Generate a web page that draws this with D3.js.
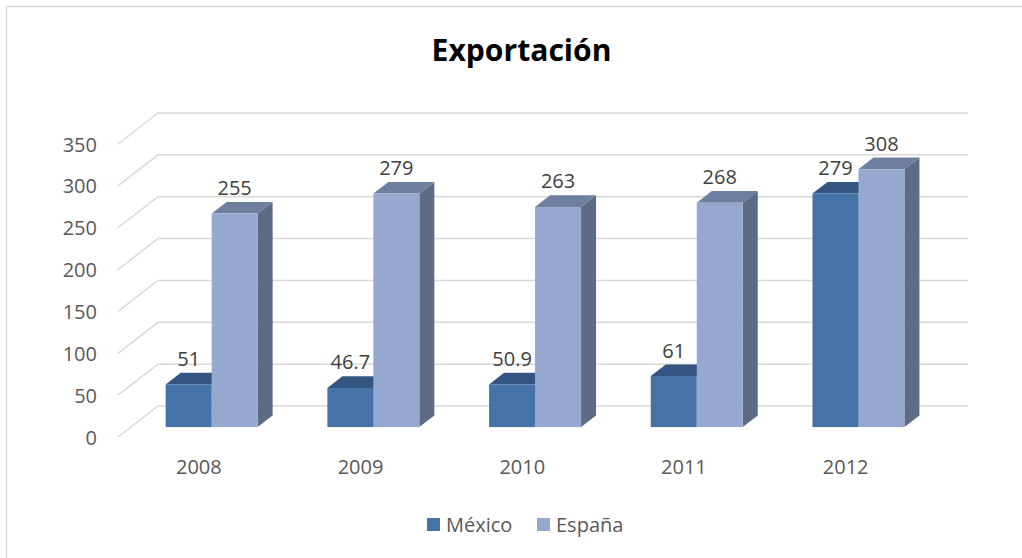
<!DOCTYPE html>
<html>
<head>
<meta charset="utf-8">
<script src="https://cdn.jsdelivr.net/npm/d3@7"></script>
<style>
  html, body { margin: 0; padding: 0; background: #fff; }
  svg { display: block; }
  text { font-family: "Open Sans", "Noto Sans", sans-serif; fill: #595959; }
</style>
</head>
<body>
<svg id="chart" width="1022" height="558"></svg>
<script>
// Export values by year, two countries
const years = ["2008", "2009", "2010", "2011", "2012"];
const seriesNames = ["México", "España"];
const mexico = [51, 46.7, 50.9, 61, 279];
const espana = [255, 279, 263, 268, 308];
const yTicks = [0, 50, 100, 150, 200, 250, 300, 350];
const chartTitle = "Exportación";

const svg = d3.select("#chart");

// Outer chart frame
svg.append("rect")
  .attr("x", 6.5).attr("y", 6.5)
  .attr("width", 1030).attr("height", 570)
  .attr("fill", "#fff").attr("stroke", "#d9d9d9").attr("stroke-width", 1.5);

// Front plane scales (depth 0); depth pushes points up and to the right
const x = d3.scaleBand().domain(years).range([118, 926.5]);
const y = d3.scaleLinear().domain([0, 350]).range([437, 144]);
const depth = { dx: 40, dy: -31 };
const proj = (px, py, t) => [px + depth.dx * t, py + depth.dy * t];

const inner = d3.scaleBand().domain(seriesNames)
  .range([0, x.bandwidth()]).paddingInner(0).paddingOuter(0.758);

const barFront = 0.32, barBack = 0.695;

const palette = {
  "México": { front: "#4572A7", top: "#345581", side: "#2F4B72" },
  "España": { front: "#95A9D0", top: "#6F7FA0", side: "#5E6B84" }
};

// Gridlines: side-wall diagonal plus back-wall horizontal
const grid = svg.append("g").attr("stroke", "#d9d9d9").attr("stroke-width", 1.5).attr("fill", "none");
const xLeft = x.range()[0], xRight = x.range()[1];
yTicks.forEach(v => {
  const a = proj(xLeft, y(v), 0);
  const b = proj(xLeft, y(v), 1);
  const c = proj(xRight, y(v), 1);
  grid.append("path").attr("d", d3.line()([a, b, [c[0] + 1.5, c[1]]]));
});

// Y axis labels
svg.append("g").selectAll("text").data(yTicks).join("text")
  .attr("x", 97).attr("y", d => y(d) + 7.5)
  .attr("text-anchor", "end").attr("font-size", 20)
  .text(d => d);

// Category labels
svg.append("g").selectAll("text").data(years).join("text")
  .attr("x", d => x(d) + x.bandwidth() / 2).attr("y", 474)
  .attr("text-anchor", "middle").attr("font-size", 20)
  .text(d => d);

// Bars
const rows = [];
years.forEach((yr, i) => {
  rows.push({ year: yr, series: "México", value: mexico[i] });
  rows.push({ year: yr, series: "España", value: espana[i] });
});

const bars = svg.append("g");
const shift = depth.dx * barFront, lift = depth.dy * barFront;
rows.forEach(d => {
  const x0 = x(d.year) + inner(d.series) + shift;
  const x1 = x0 + inner.bandwidth();
  const yb = y(0) + lift;
  const yt = y(d.value) + lift;
  const dt = barBack - barFront;
  const c = palette[d.series];
  const P = (px, py) => [px + depth.dx * dt, py + depth.dy * dt];
  const poly = pts => "M" + pts.map(p => p.join(",")).join("L") + "Z";
  // right side face
  bars.append("path").attr("fill", c.side)
    .attr("d", poly([[x1, yt], [x1, yb], P(x1, yb), P(x1, yt)]));
  // top face
  bars.append("path").attr("fill", c.top)
    .attr("d", poly([[x0, yt], [x1, yt], P(x1, yt), P(x0, yt)]));
  // front face
  bars.append("rect").attr("fill", c.front)
    .attr("x", x0).attr("y", yt).attr("width", x1 - x0).attr("height", yb - yt);
  d.cx = (x0 + x1) / 2; d.ty = yt;
});

// Value labels above each bar
svg.append("g").selectAll("text").data(rows).join("text")
  .attr("x", d => d.cx).attr("y", d => d.ty - 18.5)
  .attr("text-anchor", "middle").attr("font-size", 20)
  .attr("fill", "#404040").style("fill", "#404040")
  .text(d => d.value);

// Title
const title = svg.append("text")
  .attr("x", 521.5).attr("y", 61)
  .attr("text-anchor", "middle").attr("font-weight", "bold")
  .attr("font-size", 30).style("fill", "#000")
  .text(chartTitle);
const tw = title.node().getComputedTextLength();
title.attr("font-size", 30 * 180 / tw);

// Legend
const legend = svg.append("g");
const legendX = [427, 537];
seriesNames.forEach((s, i) => {
  legend.append("rect").attr("x", legendX[i]).attr("y", 518)
    .attr("width", 13).attr("height", 13).attr("fill", palette[s].front);
  legend.append("text").attr("x", legendX[i] + 19).attr("y", 531.5)
    .attr("font-size", 20).text(s);
});
</script>
</body>
</html>
